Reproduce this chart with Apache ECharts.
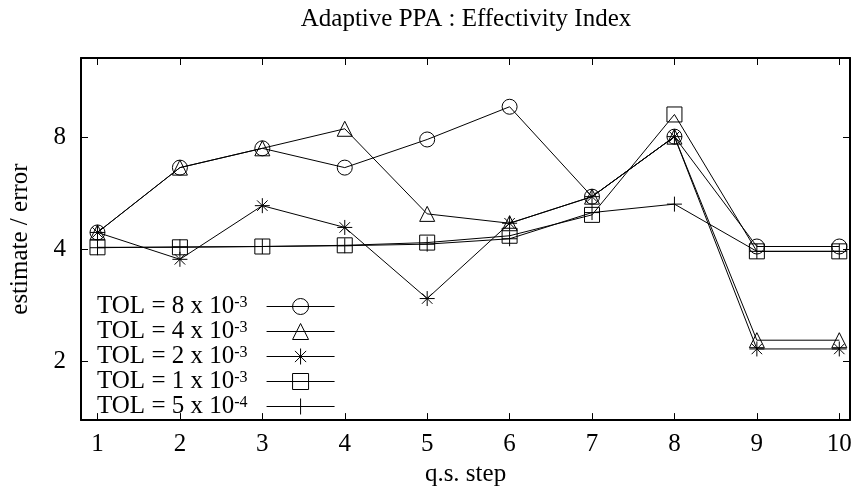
<!DOCTYPE html>
<html>
<head>
<meta charset="utf-8">
<title>Adaptive PPA : Effectivity Index</title>
<script src="https://cdn.jsdelivr.net/npm/echarts@6/dist/echarts.min.js"></script>
<style>
    html, body { margin: 0; padding: 0; background: #fff; }
    #chart { width: 858px; height: 492px; }
</style>
</head>
<body>
<div id="chart"></div>
<script>
    // q.s. step (x)
    var steps = [1, 2, 3, 4, 5, 6, 7, 8, 9, 10];
    // estimate / error, one list per tolerance
    var tol8e3 = [4.44, 6.63, 7.47, 6.63, 7.89, 9.66, 5.54, 8.03, 4.07, 4.07];
    var tol4e3 = [4.44, 6.63, 7.47, 8.43, 4.98, 4.70, 5.54, 8.03, 2.28, 2.28];
    var tol2e3 = [4.44, 3.76, 5.24, 4.58, 2.95, 4.70, 5.54, 8.03, 2.16, 2.16];
    var tol1e3 = [4.05, 4.05, 4.07, 4.10, 4.17, 4.35, 4.95, 9.21, 3.95, 3.95];
    var tol5e4 = [4.04, 4.06, 4.07, 4.09, 4.13, 4.27, 5.02, 5.29, 3.95, 3.95];
    // legend text: mantissa and exponent
    var tolNames = ['TOL = 8 x 10^-3', 'TOL = 4 x 10^-3', 'TOL = 2 x 10^-3', 'TOL = 1 x 10^-3', 'TOL = 5 x 10^-4'];

    var FONT = 'Liberation Serif';
    var FS = 25;
    var STAR = 'path://M0,5L10,5M5,0L5,10M1.5,1.5L8.5,8.5M8.5,1.5L1.5,8.5';
    var PLUS = 'path://M0,5L10,5M5,0L5,10';

    function pairs(ys) {
        return steps.map(function (x, i) { return [x, ys[i]]; });
    }

    function makeSeries(name, ys, symbol, size) {
        return {
            name: name,
            type: 'line',
            data: pairs(ys),
            symbol: symbol,
            symbolSize: size,
            showAllSymbol: true,
            lineStyle: { color: '#000', width: 1 },
            itemStyle: { color: 'transparent', borderColor: '#000', borderWidth: 1 },
            emphasis: { disabled: true },
            animation: false
        };
    }

    // mirrored axes of the gnuplot frame
    function xAx(pos, labels) {
        return {
            type: 'value', position: pos, min: 0.8, max: 10.13,
            axisLine: { show: true, onZero: false, lineStyle: { color: '#000', width: 2 } },
            axisTick: { show: true, inside: true, length: 7, customValues: steps, lineStyle: { color: '#000', width: 1 } },
            axisLabel: {
                show: labels, customValues: steps, margin: 12,
                fontFamily: FONT, fontSize: FS, color: '#000'
            },
            splitLine: { show: false },
            name: labels ? 'q.s. step' : '',
            nameLocation: 'middle', nameGap: 41,
            nameTextStyle: { fontFamily: FONT, fontSize: FS, color: '#000' }
        };
    }

    function yAx(pos, labels) {
        return {
            type: 'log', logBase: 2, position: pos, min: 1.391, max: 13.06,
            axisLine: { show: true, onZero: false, lineStyle: { color: '#000', width: 2 } },
            axisTick: { show: true, inside: true, length: 7, lineStyle: { color: '#000', width: 1 } },
            axisLabel: {
                show: labels, margin: 15,
                fontFamily: FONT, fontSize: FS, color: '#000',
                formatter: function (v) {
                    var e = Math.log(v) / Math.LN2;
                    return Math.abs(e - Math.round(e)) < 1e-6 ? String(Math.round(v)) : '';
                }
            },
            splitLine: { show: false },
            name: labels ? 'estimate / error' : '',
            nameLocation: 'middle', nameGap: 48,
            nameTextStyle: { fontFamily: FONT, fontSize: FS, color: '#000' }
        };
    }

    var chart = echarts.init(document.getElementById('chart'), null, { renderer: 'canvas' });
    chart.setOption({
        backgroundColor: '#fff',
        animation: false,
        title: {
            text: 'Adaptive PPA : Effectivity Index',
            left: 466, top: 7, textAlign: 'center', padding: 0,
            textStyle: { fontFamily: FONT, fontSize: FS, fontWeight: 'normal', color: '#000' }
        },
        grid: { left: 79, right: 8, top: 58, bottom: 64, containLabel: false },
        xAxis: [xAx('bottom', true), xAx('top', false)],
        yAxis: [yAx('left', true), yAx('right', false)],
        legend: {
            orient: 'vertical', left: 92, top: 289,
            align: 'right',
            itemWidth: 68, itemHeight: 20, itemGap: 0,
            selectedMode: false,
            data: tolNames,
            itemStyle: { borderWidth: 1, borderColor: '#000', color: 'transparent' },
            lineStyle: { width: 1, color: '#000' },
            formatter: function (name) {
                var p = name.split('^');
                return '{a|' + p[0] + '}{s|' + p[1] + '}';
            },
            textStyle: {
                rich: {
                    a: { fontFamily: FONT, fontSize: FS, lineHeight: 24, color: '#000' },
                    s: { fontFamily: FONT, fontSize: 16, lineHeight: 8, verticalAlign: 'top', color: '#000', padding: [0, 14, 0, 0] }
                }
            }
        },
        series: [
            makeSeries(tolNames[0], tol8e3, 'circle', 15),
            makeSeries(tolNames[1], tol4e3, 'triangle', 15),
            makeSeries(tolNames[2], tol2e3, STAR, 15),
            makeSeries(tolNames[3], tol1e3, 'rect', 15),
            makeSeries(tolNames[4], tol5e4, PLUS, 15)
        ]
    });
</script>
</body>
</html>
